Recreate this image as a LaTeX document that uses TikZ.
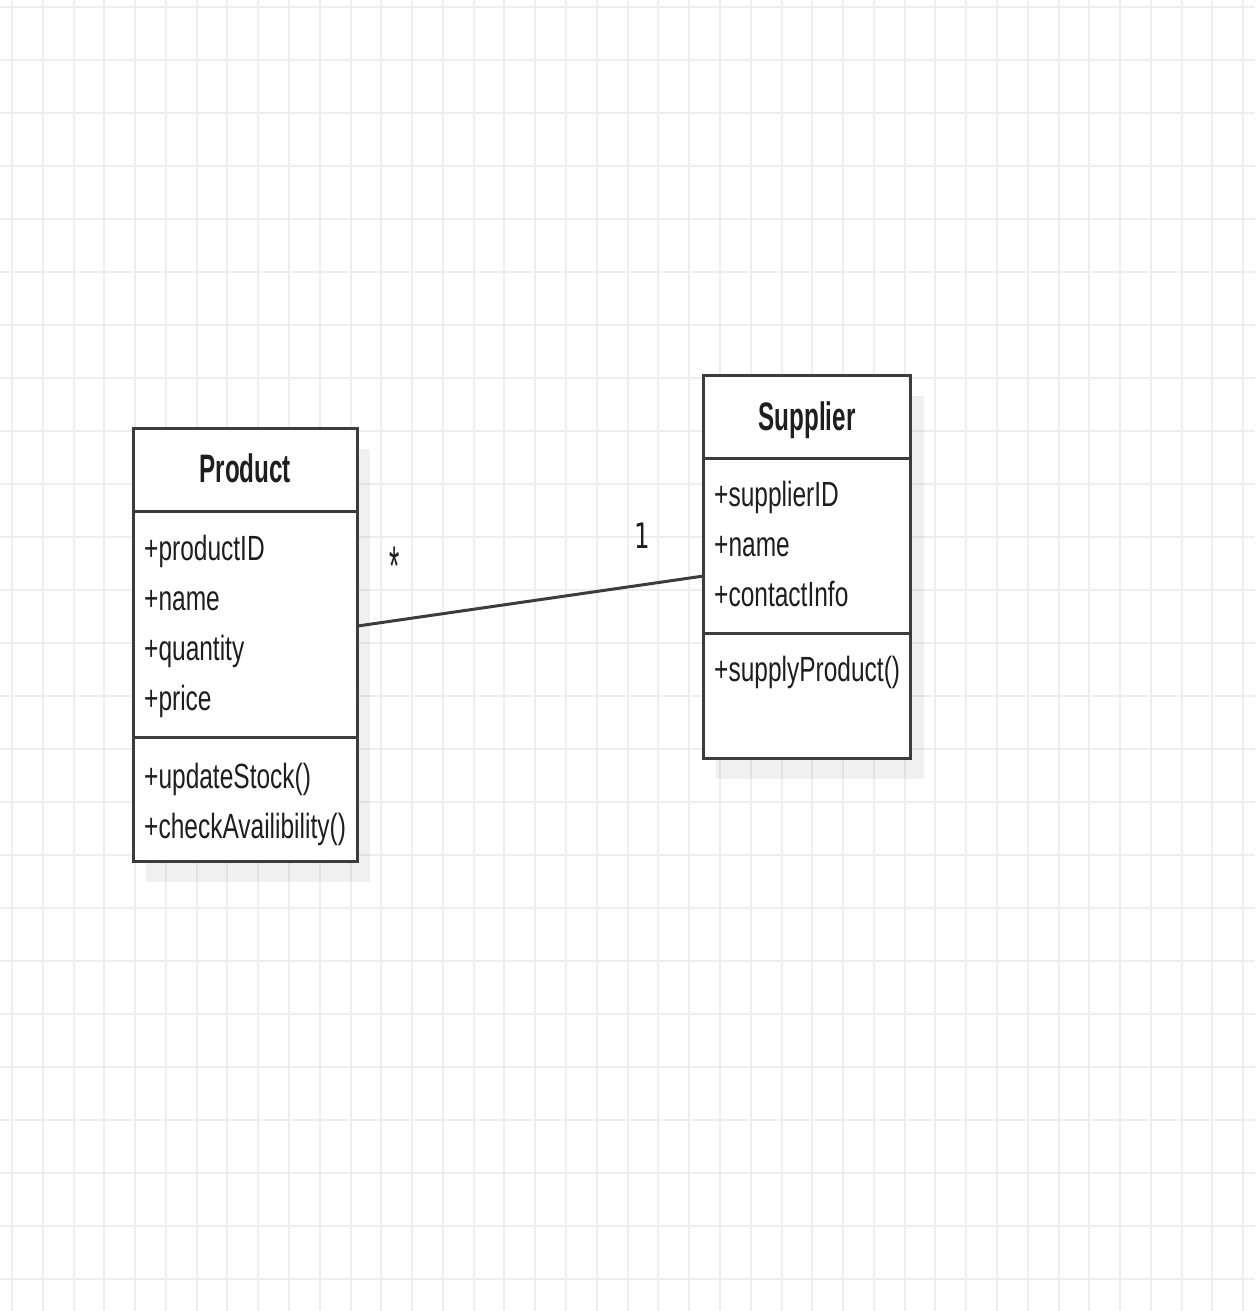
\documentclass[tikz,border=0pt]{standalone}
\usepackage{fontspec}
\usepackage{graphicx}
\setmainfont{Liberation Sans}
\newfontfamily\onefont{DejaVu Sans}
\definecolor{gridc}{RGB}{238,238,238}
\definecolor{linec}{RGB}{60,60,60}
\definecolor{textc}{RGB}{30,30,30}
\newcommand\regtxt[1]{\scalebox{0.70}[1]{#1}}
\newcommand\boldtxt[1]{\scalebox{0.61}[1]{\bfseries #1}}
\tikzset{
  classbox/.style={draw=linec, line width=3pt, fill=white, inner sep=0pt, outer sep=0pt, anchor=north west},
  shadowbox/.style={fill=black, fill opacity=0.06, draw=none, inner sep=0pt, outer sep=0pt, anchor=north west},
  divider/.style={draw=linec, line width=3pt},
  assoc/.style={draw=linec, line width=3pt},
  attrtext/.style={text=textc, inner sep=0pt, anchor=base west, font=\fontsize{35}{40}\selectfont},
  headtext/.style={text=textc, inner sep=0pt, anchor=base, font=\fontsize{39.7}{44}\selectfont},
  multtext/.style={text=textc, inner sep=0pt, font=\fontsize{35}{40}\selectfont},
  gridline/.style={draw=gridc, line width=2pt}
}
\begin{document}
\begin{tikzpicture}[x=1pt,y=-1pt]
\useasboundingbox (0,0) rectangle (1255,1311);
\fill[white] (0,0) rectangle (1255,1311);
% grid
\foreach \k in {0,...,40} {
  \draw[gridline] ({12+30.78*\k},0) -- ({12+30.78*\k},1311);
}
\foreach \k in {0,...,24} {
  \draw[gridline] (0,{6.7+53.0*\k}) -- (1255,{6.7+53.0*\k});
}
% shadows
\node[shadowbox, minimum width=224pt, minimum height=432.7pt] (productshadow) at (146.3,449.3) {};
\node[shadowbox, minimum width=207.4pt, minimum height=383.3pt] (suppliershadow) at (716.3,396) {};
% Product class
\node[classbox, minimum width=224pt, minimum height=432.7pt] (product) at (133.3,428.3) {};
\draw[divider] (133.3,511.7) -- (357.3,511.7);
\draw[divider] (133.3,737.7) -- (357.3,737.7);
\node[headtext] (productname) at (245.3,482) {\boldtxt{Product}};
\node[attrtext] (pa1) at (144,560) {\regtxt{+productID}};
\node[attrtext] (pa2) at (144,610) {\regtxt{+name}};
\node[attrtext] (pa3) at (144,660) {\regtxt{+quantity}};
\node[attrtext] (pa4) at (144,710) {\regtxt{+price}};
\node[attrtext] (pm1) at (144,788) {\regtxt{+updateStock()}};
\node[attrtext] (pm2) at (144,838) {\regtxt{+checkAvailibility()}};
% Supplier class
\node[classbox, minimum width=207.4pt, minimum height=383.3pt] (supplier) at (703.3,375) {};
\draw[divider] (703.3,458.3) -- (910.7,458.3);
\draw[divider] (703.3,633.3) -- (910.7,633.3);
\node[headtext] (suppliername) at (807,430) {\boldtxt{Supplier}};
\node[attrtext] (sa1) at (714,506.7) {\regtxt{+supplierID}};
\node[attrtext] (sa2) at (714,556.7) {\regtxt{+name}};
\node[attrtext] (sa3) at (714,606.7) {\regtxt{+contactInfo}};
\node[attrtext] (sm1) at (714,681.7) {\regtxt{+supplyProduct()}};
% association
\draw[assoc] ([yshift=18.6pt]product.east) -- ([yshift=-9.4pt]supplier.west);
\node[multtext, anchor=north] (multmany) at (395,547) {\scalebox{0.75}[1.6]{*}};
\node[multtext, anchor=base] (multone) at (642,548) {\onefont\regtxt{1}};
\end{tikzpicture}
\end{document}
